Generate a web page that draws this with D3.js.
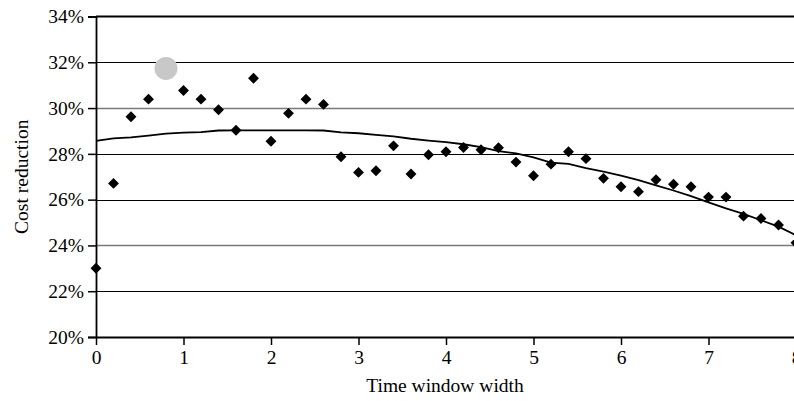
<!DOCTYPE html>
<html>
<head>
<meta charset="utf-8">
<script src="https://cdn.jsdelivr.net/npm/d3@7"></script>
<style>
  body { margin: 0; background: #fff; }
  svg { display: block; }
  svg text { font-family: "Times New Roman", Times, "Liberation Serif", "DejaVu Serif", "Noto Serif", serif; }
</style>
</head>
<body>
<svg id="chart"></svg>
<script>
const width = 794;
const height = 401;

// time window width, 0 to 8 in steps of 0.2
const windows = [0, 0.2, 0.4, 0.6, 0.8, 1, 1.2, 1.4, 1.6, 1.8, 2, 2.2, 2.4, 2.6, 2.8, 3, 3.2, 3.4, 3.6, 3.8,
  4, 4.2, 4.4, 4.6, 4.8, 5, 5.2, 5.4, 5.6, 5.8, 6, 6.2, 6.4, 6.6, 6.8, 7, 7.2, 7.4, 7.6, 7.8, 8];

// measured cost reduction (%)
const reduction = [23.0, 26.71, 29.62, 30.39, 31.73, 30.77, 30.39, 29.93, 29.03, 31.30, 28.55, 29.77, 30.39, 30.16,
  27.87, 27.19, 27.26, 28.35, 27.12, 27.96, 28.09, 28.28, 28.18, 28.27, 27.64, 27.04, 27.55, 28.09, 27.79, 26.93,
  26.56, 26.35, 26.87, 26.67, 26.56, 26.11, 26.11, 25.28, 25.18, 24.89, 24.12];

// smoothed trend (%)
const trend = [28.57, 28.68, 28.72, 28.80, 28.88, 28.93, 28.95, 29.02, 29.03, 29.03, 29.03, 29.03, 29.03, 29.02,
  28.94, 28.90, 28.83, 28.76, 28.66, 28.58, 28.51, 28.42, 28.29, 28.12, 28.02, 27.85, 27.62, 27.56, 27.38, 27.22,
  27.05, 26.85, 26.62, 26.40, 26.15, 25.88, 25.62, 25.38, 25.10, 24.82, 24.45];

// the highlighted point
const highlightIndex = 4;

const yTicks = [20, 22, 24, 26, 28, 30, 32, 34];
const xTicks = [0, 1, 2, 3, 4, 5, 6, 7, 8];

const svg = d3.select("#chart")
  .attr("width", width)
  .attr("height", height);

const x = d3.scaleLinear().domain([0, 8]).range([96, 796]);
const y = d3.scaleLinear().domain([20, 34]).range([337, 16.5]);

// gridlines
svg.append("g")
  .selectAll("line")
  .data(yTicks.filter(d => d > 20 && d < 34))
  .enter()
  .append("line")
  .attr("x1", x(0))
  .attr("x2", width)
  .attr("y1", d => Math.round(y(d)) + 0.5)
  .attr("y2", d => Math.round(y(d)) + 0.5)
  .attr("stroke", d => (d === 30 || d === 24) ? "#7a7a7a" : "#000")
  .attr("stroke-width", d => (d === 30 || d === 24) ? 1.6 : 1.2);

// top border
svg.append("line")
  .attr("x1", x(0)).attr("x2", width)
  .attr("y1", y(34)).attr("y2", y(34))
  .attr("stroke", "#000").attr("stroke-width", 1.8);

// y axis
const yAxis = svg.append("g")
  .attr("transform", `translate(${x(0)},0)`)
  .call(d3.axisLeft(y).tickValues(yTicks).tickFormat(d => d + "%").tickSize(8).tickPadding(4));
yAxis.attr("font-family", null);
yAxis.select(".domain").attr("stroke", "#000").attr("stroke-width", 1.8);
yAxis.selectAll(".tick line").attr("stroke", "#000").attr("stroke-width", 1.5);
yAxis.selectAll("text")
  .attr("font-size", 19.5)
  .attr("fill", "#000");

// x axis
const xAxis = svg.append("g")
  .attr("transform", `translate(0,${y(20)})`)
  .call(d3.axisBottom(x).tickValues(xTicks).tickFormat(d3.format("d")).tickSize(8).tickPadding(5).tickSizeOuter(0));
xAxis.attr("font-family", null);
xAxis.select(".domain").attr("stroke", "#000").attr("stroke-width", 2);
xAxis.selectAll(".tick line").attr("stroke", "#000").attr("stroke-width", 1.5);
xAxis.selectAll("text")
  .attr("font-size", 19.5)
  .attr("fill", "#000");

// trend line
const line = d3.line()
  .x((d, i) => x(windows[i]))
  .y(d => y(d));

svg.append("path")
  .datum(trend)
  .attr("d", line)
  .attr("fill", "none")
  .attr("stroke", "#000")
  .attr("stroke-width", 1.8);

// measured points
const points = windows.map((w, i) => ({ w, v: reduction[i], i }));

svg.append("g")
  .selectAll("path")
  .data(points.filter(d => d.i !== highlightIndex))
  .enter()
  .append("path")
  .attr("transform", d => `translate(${x(d.w)},${y(d.v)})`)
  .attr("d", d3.symbol().type(d3.symbolDiamond2).size(76))
  .attr("fill", "#000");

svg.append("circle")
  .datum(points[highlightIndex])
  .attr("cx", d => x(d.w))
  .attr("cy", d => y(d.v))
  .attr("r", 11.5)
  .attr("fill", "#c8c8c8");

// axis titles
svg.append("text")
  .attr("x", 445)
  .attr("y", 392)
  .attr("text-anchor", "middle")
  .attr("font-size", 19.5)
  .text("Time window width");

svg.append("text")
  .attr("transform", `translate(28,${y(27)}) rotate(-90)`)
  .attr("text-anchor", "middle")
  .attr("font-size", 19.5)
  .text("Cost reduction");
</script>
</body>
</html>
